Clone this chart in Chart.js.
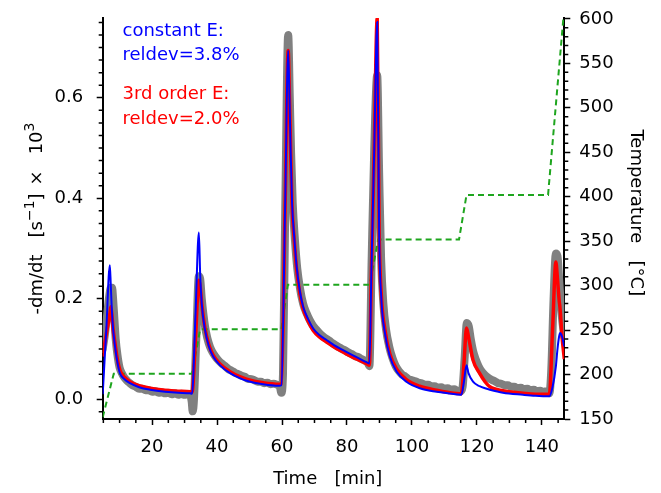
<!DOCTYPE html>
<html>
<head>
<meta charset="utf-8">
<script src="https://cdn.jsdelivr.net/npm/chart.js@4"></script>
<style>
  html, body { margin: 0; background: #fff; }
  canvas { display: block; }
</style>
</head>
<body>
<canvas id="chart" width="661" height="493"></canvas>
<script>
// time axis [min] for the two fits (shared)
const tFit = [4.8, 5.9, 7.0, 7.3, 7.6, 8.0, 8.6, 9.3, 10.1, 11.5, 13.2, 16, 19.4, 24, 28, 31.7, 32.3,
  33.4, 34.4, 34.8, 35.3, 36.3, 37.5, 38.8, 41, 44, 47, 49.1, 54.2, 59.1, 59.8,
  61.0, 61.9, 62.3, 62.6, 63.1, 63.8, 64.5, 65.5, 66.5, 68, 69.6, 71.5, 73.7, 76, 78.8, 82, 86, 86.9,
  87.5, 88.4, 89.3, 89.9, 90.6, 91.7, 93.2, 95.3, 98.3, 102.4, 107.6, 111, 115.2,
  116.0, 116.8, 117.4, 118.8, 120.8, 122.5, 124, 128, 134.2, 138, 142.3,
  143.3, 144.3, 144.8, 145.3, 145.6, 146.2, 146.9];

// constant E fit (blue)
const constE = [0.010, 0.138, 0.267, 0.225, 0.180, 0.140, 0.105, 0.075, 0.052, 0.040, 0.032, 0.024, 0.019, 0.015, 0.013, 0.012, 0.011,
  0.175, 0.332, 0.250, 0.190, 0.138, 0.105, 0.085, 0.067, 0.052, 0.042, 0.037, 0.030, 0.027, 0.028,
  0.400, 0.694, 0.600, 0.510, 0.390, 0.320, 0.264, 0.215, 0.184, 0.160, 0.141, 0.128, 0.118, 0.108, 0.098, 0.087, 0.074, 0.071,
  0.250, 0.500, 0.751, 0.330, 0.198, 0.131, 0.085, 0.055, 0.035, 0.022, 0.015, 0.012, 0.009,
  0.035, 0.068, 0.052, 0.035, 0.026, 0.022, 0.019, 0.013, 0.009, 0.007, 0.006,
  0.025, 0.065, 0.100, 0.125, 0.132, 0.125, 0.105];

// 3rd order E fit (red)
const order3E = [0.085, 0.130, 0.170, 0.184, 0.170, 0.140, 0.111, 0.080, 0.058, 0.044, 0.035, 0.027, 0.022, 0.018, 0.016, 0.015, 0.014,
  0.125, 0.237, 0.225, 0.190, 0.141, 0.108, 0.088, 0.070, 0.055, 0.045, 0.040, 0.033, 0.030, 0.031,
  0.400, 0.694, 0.600, 0.510, 0.385, 0.315, 0.258, 0.210, 0.180, 0.156, 0.137, 0.124, 0.114, 0.104, 0.094, 0.083, 0.071, 0.068,
  0.250, 0.500, 0.758, 0.340, 0.205, 0.138, 0.090, 0.060, 0.039, 0.026, 0.018, 0.014, 0.011,
  0.070, 0.142, 0.125, 0.078, 0.052, 0.035, 0.025, 0.017, 0.012, 0.010, 0.010,
  0.140, 0.273, 0.240, 0.198, 0.180, 0.125, 0.080];

// measured rate (grey)
const tMeas = [4.8, 5.5, 6.2, 6.8, 7.3, 7.7, 8.0, 8.4, 8.8, 9.3, 10.0, 10.7, 11.5, 12.3, 13, 14, 15, 16, 17, 18, 19, 20,
  21, 22, 23, 24, 25, 26, 27, 28, 29, 30, 31, 31.8, 32.2, 32.5, 32.9, 33.6, 34.4, 34.8, 35.3, 36.3, 37.0, 37.8,
  38.6, 39.5, 40.5, 41.5, 42.5, 43.5, 44.5, 45.5, 46.5, 47.5, 48.5, 49.5, 50.5, 51.5, 52.5, 53.5, 54.5, 55.5,
  56.5, 57.5, 58.5, 59.3, 59.8, 60.3, 61.0, 61.9, 62.4, 62.8, 63.3, 64.0, 64.7, 65.5, 66.5, 67.5, 68.5, 69.5,
  70.5, 71.5, 72.5, 73.5, 74.5, 75.5, 76.5, 77.5, 78.5, 79.5, 80.5, 81.5, 82.5, 83.5, 84.5, 85.5, 86.3, 86.9,
  87.6, 88.4, 89.3, 89.9, 90.5, 91.2, 92.0, 93.0, 94.0, 95.0, 96, 97, 98, 99, 100, 101, 102, 103, 104, 105,
  106, 107, 108, 109, 110, 111, 112, 113, 114, 115, 115.6, 116.2, 116.9, 117.5, 118.1, 118.8, 119.6, 120.5,
  121.5, 122.5, 123.5, 124.5, 125.5, 126.5, 127.5, 128.5, 129.5, 130.5, 131.5, 132.5, 133.5, 134.5, 135.5,
  136.5, 137.5, 138.5, 139.5, 140.5, 141.5, 142.3, 142.9, 143.6, 144.3, 144.8, 145.3, 145.8, 146.3, 146.9];
const measured = [0.100, 0.130, 0.170, 0.205, 0.222, 0.222, 0.200, 0.160, 0.120, 0.090, 0.063, 0.052, 0.043, 0.037, 0.033, 0.028, 0.025, 0.021, 0.021, 0.018, 0.018, 0.015,
  0.016, 0.013, 0.014, 0.012, 0.013, 0.010, 0.012, 0.009, 0.011, 0.009, 0.010, 0.008, -0.005, -0.024, 0.000, 0.120, 0.245, 0.240, 0.200, 0.145, 0.122, 0.105,
  0.094, 0.085, 0.077, 0.071, 0.066, 0.060, 0.057, 0.053, 0.050, 0.047, 0.045, 0.041, 0.040, 0.038, 0.035, 0.035, 0.032, 0.033,
  0.030, 0.031, 0.029, 0.026, 0.013, 0.050, 0.380, 0.725, 0.600, 0.490, 0.390, 0.315, 0.260, 0.222, 0.190, 0.172, 0.158, 0.147,
  0.139, 0.132, 0.126, 0.121, 0.117, 0.112, 0.108, 0.104, 0.100, 0.097, 0.093, 0.090, 0.086, 0.084, 0.080, 0.077, 0.074, 0.066,
  0.280, 0.500, 0.645, 0.450, 0.280, 0.190, 0.140, 0.105, 0.082, 0.066, 0.056, 0.049, 0.045, 0.040, 0.038, 0.036, 0.033, 0.032, 0.029, 0.029,
  0.026, 0.026, 0.023, 0.024, 0.021, 0.022, 0.019, 0.020, 0.017, 0.016, 0.025, 0.080, 0.152, 0.145, 0.120, 0.097, 0.080, 0.066,
  0.055, 0.048, 0.043, 0.039, 0.036, 0.032, 0.031, 0.028, 0.028, 0.025, 0.025, 0.022, 0.023, 0.020, 0.021,
  0.018, 0.019, 0.016, 0.017, 0.015, 0.016, 0.012, 0.060, 0.200, 0.290, 0.285, 0.240, 0.190, 0.155, 0.125];

// oven temperature program [°C]
const tTemp = [4.8, 8.2, 32.3, 34.8, 59.8, 61.8, 87.0, 89.6, 114.5, 116.8, 141.9, 146.6];
const temperature = [152, 201, 201, 251, 251, 301, 301, 352, 352, 402, 402, 600];

// tick labels
const xMajor = [20, 40, 60, 80, 100, 120, 140];
const yMajor = [0.0, 0.2, 0.4, 0.6];
const tempMajor = [150, 200, 250, 300, 350, 400, 450, 500, 550, 600];

const FONT = "'DejaVu Sans', sans-serif";
Chart.defaults.font.family = FONT;
Chart.defaults.font.size = 18;
Chart.defaults.color = '#000';

const pts = (t, v) => t.map((x, i) => ({ x, y: v[i] }));

// minor tick marks (the library only draws one tick length)
const minorTicks = {
  id: 'minorTicks',
  afterDraw(chart){
    const { ctx, chartArea: a, scales } = chart;
    ctx.save();
    ctx.strokeStyle = '#000';
    ctx.lineWidth = 1.5;
    ctx.beginPath();
    for (let v = 5; v <= 145; v += 5){
      if (v % 20 === 0) continue;
      const x = scales.x.getPixelForValue(v);
      ctx.moveTo(x, a.bottom); ctx.lineTo(x, a.bottom + 4);
    }
    for (let i = -1; i <= 30; i++){
      if (i % 8 === 0) continue;
      const y = scales.y.getPixelForValue(i * 0.025);
      ctx.moveTo(a.left, y); ctx.lineTo(a.left - 4, y);
    }
    for (let v = 160; v < 600; v += 10){
      if (v % 50 === 0) continue;
      const y = scales.y2.getPixelForValue(v);
      ctx.moveTo(a.right, y); ctx.lineTo(a.right + 4, y);
    }
    ctx.stroke();
    ctx.restore();
  }
};

// left axis title with real superscripts
const yTitle = {
  id: 'yTitle',
  afterDraw(chart){
    const { ctx, chartArea: a } = chart;
    const big = '18px ' + FONT, small = '14px ' + FONT;
    // [text, font, raise, gap after]
    const parts = [
      ['-dm/dt', big, 0, 17],
      ['[s', big, 0, 0],
      ['\u22121', small, -8, 0],
      [']', big, 0, 8],
      ['\u00D7', big, 0, 16],
      ['10', big, 0, 0],
      ['3', small, -8, 0]
    ];
    ctx.save();
    let total = 0;
    for (const [s, f, , g] of parts){ ctx.font = f; total += ctx.measureText(s).width + g; }
    ctx.translate(41.5, (a.top + a.bottom) / 2 + total / 2);
    ctx.rotate(-Math.PI / 2);
    ctx.fillStyle = '#000';
    ctx.textBaseline = 'alphabetic';
    let u = 0;
    for (const [s, f, dy, g] of parts){
      ctx.font = f;
      ctx.fillText(s, u, dy);
      u += ctx.measureText(s).width + g;
    }
    ctx.restore();
  }
};

// in-plot annotations
const notes = {
  id: 'notes',
  afterDraw(chart){
    const { ctx } = chart;
    ctx.save();
    ctx.font = '18px ' + FONT;
    ctx.textBaseline = 'alphabetic';
    ctx.fillStyle = '#0000ff';
    ctx.fillText('constant E:', 122.5, 35.5);
    ctx.fillText('reldev=3.8%', 122.5, 60);
    ctx.fillStyle = '#ff0000';
    ctx.fillText('3rd order E:', 122.5, 99);
    ctx.fillText('reldev=2.0%', 122.5, 123.5);
    ctx.restore();
  }
};

const axisGrid = { drawOnChartArea: false, drawTicks: true, tickLength: 6, tickColor: '#000', tickWidth: 1.5 };
const axisBorder = { display: true, color: '#000', width: 2 };

new Chart(document.getElementById('chart'), {
  type: 'line',
  data: {
    datasets: [
      { label: 'constant E', data: pts(tFit, constE), yAxisID: 'y', borderColor: '#0000ff',
        borderWidth: 2, pointRadius: 0, cubicInterpolationMode: 'monotone', order: 1 },
      { label: '3rd order E', data: pts(tFit, order3E), yAxisID: 'y', borderColor: '#ff0000',
        borderWidth: 3.5, pointRadius: 0, cubicInterpolationMode: 'monotone', order: 2 },
      { label: 'Temperature', data: pts(tTemp, temperature), yAxisID: 'y2', borderColor: '#1ea51e',
        borderWidth: 2, borderDash: [6, 4], pointRadius: 0, tension: 0, order: 3 },
      { label: 'measured', data: pts(tMeas, measured), yAxisID: 'y', borderColor: '#808080',
        borderWidth: 8, borderCapStyle: 'round', borderJoinStyle: 'round', pointRadius: 0,
        cubicInterpolationMode: 'monotone', order: 4 }
    ]
  },
  options: {
    responsive: false, animation: false, devicePixelRatio: 1,
    layout: { padding: { top: 18, left: 0, right: 0, bottom: 0 } },
    plugins: { legend: { display: false }, tooltip: { enabled: false } },
    scales: {
      x: {
        type: 'linear', position: 'bottom', min: 4.8, max: 146.9,
        afterBuildTicks: s => { s.ticks = xMajor.map(value => ({ value })); },
        afterFit: s => { s.height = 74; },
        ticks: { padding: 12, maxRotation: 0, autoSkip: false, color: '#000' },
        grid: axisGrid, border: axisBorder,
        title: { display: true, text: 'Time   [min]  ', color: '#000', padding: { top: 0, bottom: 3 } }
      },
      y: {
        type: 'linear', position: 'left', min: -0.0392, max: 0.7588,
        afterBuildTicks: s => { s.ticks = yMajor.map(value => ({ value })); },
        afterFit: s => { s.width = 102.7; s.paddingTop = 0; s.paddingBottom = 0; },
        ticks: { padding: 13.5, color: '#000', callback: v => v.toFixed(1) },
        grid: axisGrid, border: axisBorder,
        title: { display: false }
      },
      y2: {
        type: 'linear', position: 'right', min: 150, max: 601,
        afterBuildTicks: s => { s.ticks = tempMajor.map(value => ({ value })); },
        afterFit: s => { s.width = 96.7; s.paddingTop = 0; s.paddingBottom = 0; },
        ticks: { padding: 9, color: '#000' },
        grid: axisGrid, border: axisBorder,
        title: { display: true, text: 'Temperature   [\u00B0C]  ', color: '#000', padding: { top: 15, bottom: 0 } }
      }
    }
  },
  plugins: [minorTicks, yTitle, notes]
});
</script>
</body>
</html>
